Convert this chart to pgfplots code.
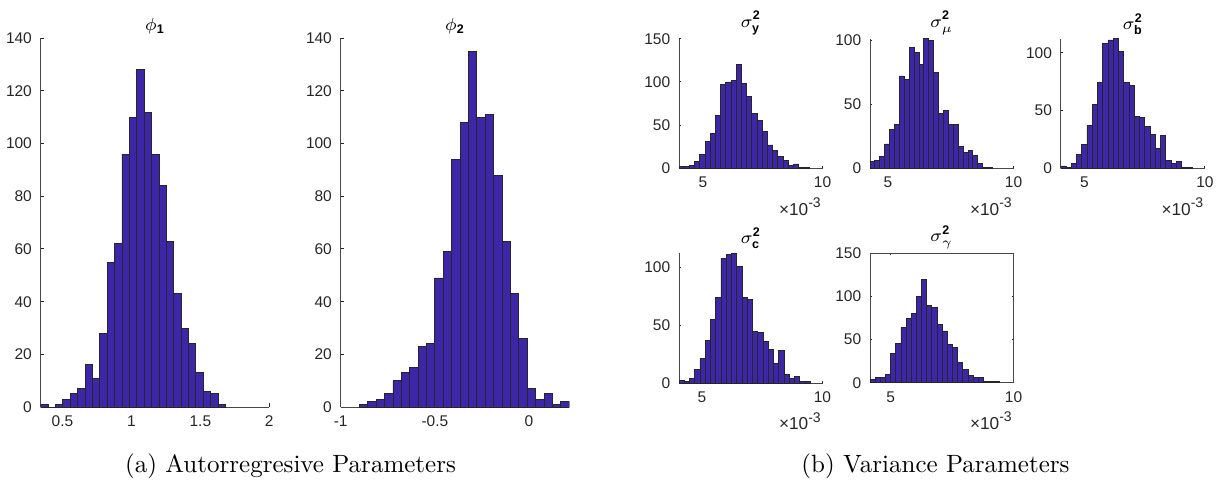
\documentclass[border=0pt]{standalone}
\usepackage{fontspec}
\usepackage{amsmath}
\usepackage{pgfplots}
\pgfplotsset{compat=1.18}
\newfontfamily\arial{Liberation Sans}
\definecolor{barc}{rgb}{0.2422,0.1504,0.6603}
\definecolor{axc}{rgb}{0.15,0.15,0.15}
\pgfplotsset{
  hbase/.style={
    scale only axis,
    anchor=south west,
    clip mode=individual,
    axis x line*=bottom, axis y line*=left,
    axis line style={-, draw=axc!85, line width=0.4pt},
    tick align=inside,
    tick style={draw=axc, line width=0.4pt},
    major tick length=1.5pt,
    ymin=0,
    tick label style={font=\arial\fontsize{6.2}{7}\selectfont, text=axc},
    /pgf/number format/assume math mode=true,
    every axis title/.style={font=\arial\fontsize{7}{8}\selectfont, at={(0.5,1)}, anchor=south, inner sep=0pt, yshift=1.4pt},
  },
  small/.style={hbase, width=57.4pt, height=51.8pt, xmin=4, xmax=10, xtick={5,10}, major tick length=0.8pt},
  bars/.style={ybar interval, fill=barc, draw=black!85, line width=0.35pt},
}
\newcommand{\sclabel}{\node[anchor=base east, yshift=-18.7pt, inner sep=0pt, font=\arial\fontsize{6.9}{8}\selectfont, text=axc] at (rel axis cs:1,0) {×10\textsuperscript{\fontsize{5.6}{6}\selectfont -3}};}
\begin{document}
\begin{tikzpicture}
\useasboundingbox (0,0) rectangle (490pt,194pt);

% phi_1
\begin{axis}[hbase, at={(16.28pt,31.2pt)}, width=91.44pt, height=147.48pt,
  xmin=0.342, xmax=2, ymax=140, xtick={0.5,1,1.5,2}, ytick={0,20,...,140},
  title={$\phi_{\text{\bfseries 1}}$}]
\addplot[bars] coordinates {(0.342,1)(0.3956,0)(0.4492,1)(0.5028,3)(0.5564,5)(0.6100,7)(0.6636,16)(0.7172,11)(0.7708,28)(0.8244,55)(0.8780,62)(0.9316,96)(0.9852,110)(1.0388,128)(1.0924,112)(1.1460,96)(1.1996,84)(1.2532,63)(1.3068,43)(1.3604,30)(1.4140,24)(1.4676,13)(1.5212,6)(1.5748,5)(1.6284,1)(1.6820,0)};
\end{axis}

% phi_2
\begin{axis}[hbase, at={(136.28pt,31.2pt)}, width=91.44pt, height=147.48pt,
  xmin=-1, xmax=0.214, ymax=140, xtick={-1,-0.5,0}, ytick={0,20,...,140},
  title={$\phi_{\text{\bfseries 2}}$}]
\addplot[bars] coordinates {(-0.901,1)(-0.8564,2)(-0.8118,3)(-0.7672,5)(-0.7226,10)(-0.6780,13)(-0.6334,15)(-0.5888,23)(-0.5442,24)(-0.4996,49)(-0.4550,59)(-0.4104,94)(-0.3658,108)(-0.3212,135)(-0.2766,110)(-0.2320,111)(-0.1874,88)(-0.1428,63)(-0.0982,43)(-0.0536,26)(-0.0090,7)(0.0356,3)(0.0802,5)(0.1248,1)(0.1694,2)(0.2140,0)};
\end{axis}

% sigma_y
\begin{axis}[small, at={(271.6pt,126.68pt)}, ymax=150, ytick={0,50,100,150},
  title={$\sigma^{\text{\bfseries 2}}_{\text{\bfseries y}}$}]
\addplot[bars] coordinates {(4.0000,2)(4.2176,2)(4.4352,3)(4.6528,8)(4.8704,16)(5.0880,31)(5.3056,40)(5.5232,61)(5.7408,97)(5.9584,100)(6.1760,102)(6.3936,120)(6.6112,98)(6.8288,83)(7.0464,63)(7.2640,55)(7.4816,43)(7.6992,27)(7.9168,21)(8.1344,14)(8.3520,9)(8.5696,3)(8.7872,5)(9.0048,1)(9.2224,1)(9.4400,0)};
\sclabel
\end{axis}

% sigma_mu
\begin{axis}[small, at={(348pt,126.68pt)}, xmin=4.29, ymax=101, ytick={0,50,100},
  title={$\sigma^{\text{\bfseries 2}}_{\mu}$}]
\addplot[bars] coordinates {(4.290,5)(4.485,6)(4.680,9)(4.875,19)(5.070,30)(5.265,34)(5.460,72)(5.655,69)(5.850,94)(6.045,90)(6.240,81)(6.435,101)(6.630,100)(6.825,75)(7.020,43)(7.215,45)(7.410,34)(7.605,34)(7.800,17)(7.995,12)(8.190,14)(8.385,10)(8.580,4)(8.775,1)(8.970,1)(9.165,0)};
\sclabel
\end{axis}

% sigma_b
\begin{axis}[small, at={(424.28pt,126.68pt)}, width=57.7pt, xmin=4.02, ymax=112, ytick={0,50,100},
  title={$\sigma^{\text{\bfseries 2}}_{\text{\bfseries b}}$}]
\addplot[bars] coordinates {(4.0200,2)(4.2376,1)(4.4552,4)(4.6728,12)(4.8904,21)(5.1080,37)(5.3256,55)(5.5432,74)(5.7608,108)(5.9784,111)(6.1960,112)(6.4136,101)(6.6312,74)(6.8488,72)(7.0664,45)(7.2840,44)(7.5016,36)(7.7192,29)(7.9368,17)(8.1544,28)(8.3720,7)(8.5896,4)(8.8072,6)(9.0248,1)(9.2424,1)(9.4600,0)};
\sclabel
\end{axis}

% sigma_c
\begin{axis}[small, at={(271.6pt,40.8pt)}, height=52pt, xmin=4.05, ymax=112.5, ytick={0,50,100},
  title={$\sigma^{\text{\bfseries 2}}_{\text{\bfseries c}}$}]
\addplot[bars] coordinates {(4.0500,2)(4.2676,1)(4.4852,4)(4.7028,12)(4.9204,21)(5.1380,37)(5.3556,55)(5.5732,74)(5.7908,108)(6.0084,111)(6.2260,112)(6.4436,101)(6.6612,74)(6.8788,72)(7.0964,45)(7.3140,44)(7.5316,36)(7.7492,29)(7.9668,17)(8.1844,28)(8.4020,7)(8.6196,4)(8.8372,6)(9.0548,1)(9.2724,1)(9.4900,0)};
\sclabel
\end{axis}

% sigma_gamma (box on)
\begin{axis}[small, at={(348pt,40.9pt)}, height=51.8pt, axis x line=box, axis y line=box,
  xmin=4.16, ymax=150, ytick={0,50,100,150},
  title={$\sigma^{\text{\bfseries 2}}_{\gamma}$}]
\addplot[bars] coordinates {(4.16,4)(4.37,6)(4.58,6)(4.79,10)(5.00,34)(5.21,45)(5.42,64)(5.63,75)(5.84,80)(6.05,100)(6.26,120)(6.47,89)(6.68,87)(6.89,67)(7.10,60)(7.31,44)(7.52,41)(7.73,23)(7.94,15)(8.15,8)(8.36,6)(8.57,6)(8.78,2)(8.99,2)(9.20,2)(9.41,0)};
\sclabel
\end{axis}

\node[anchor=base, font=\fontsize{10}{12}\selectfont] at (116.2pt,5.2pt) {(a) Autorregresive Parameters};
\node[anchor=base, font=\fontsize{10}{12}\selectfont] at (374.2pt,5.2pt) {(b) Variance Parameters};
\end{tikzpicture}
\end{document}
